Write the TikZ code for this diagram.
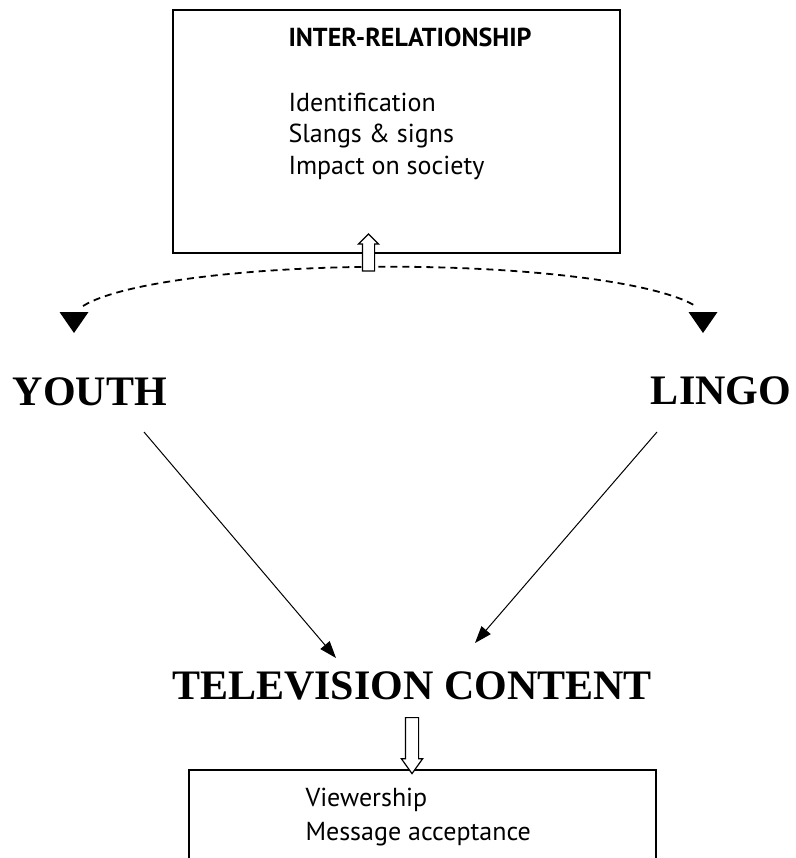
\documentclass[tikz,border=0pt]{standalone}
\usepackage{fontspec}
\setmainfont{Liberation Serif}
\setsansfont{PT Sans}
\usetikzlibrary{positioning}
\usetikzlibrary{arrows.meta,shapes.arrows}
\tikzset{edge/.style = {->,> = {Triangle[length=17pt,width=12pt]}}}

\begin{document}
\begin{tikzpicture}[x=1pt, y=-1pt, line width=1pt,
    main node/.style={font=\bfseries\fontsize{42}{50}\selectfont, inner sep=0, anchor=base},
    item node/.style={font=\sffamily\fontsize{26}{31}\selectfont, inner sep=0, anchor=base west},
    box node/.style={draw, line width=1.6pt, inner sep=0},
    block arrow/.style={single arrow, draw, fill=white, line width=1.2pt, single arrow head extend=4pt}]
    \useasboundingbox (0,0) rectangle (795,858);
    % boxes and texts
    \node[box node, minimum width=447pt, minimum height=243pt] (rel) at (396.5,131.5) {};
    \node[item node] (relhead) at (288,47) {\bfseries INTER-RELATIONSHIP};
    \node[item node] (ident) at (288,112) {Identification};
    \node[item node] (slangs) at (288,143) {Slangs \& signs};
    \node[item node] (impact) at (288,175) {Impact on society};
    \node[main node] (youth) at (90,405) {YOUTH};
    \node[main node] (lingo) at (721,404) {LINGO};
    \node[main node] (tv) at (412,699) {TELEVISION CONTENT};
    \node[box node, minimum width=467pt, minimum height=120pt, anchor=north] (out) at (422.5,769) {};
    \node[item node] (views) at (305,806) {Viewership};
    \node[item node] (accept) at (305,840) {Message acceptance};
    % dashed link and its two pointers
    \coordinate (yl) at (83,306);
    \draw[line width=1.8pt, dash pattern=on 7pt off 5pt] (yl) arc[start angle=195, end angle=345, x radius=317, y radius=53] coordinate (ll);
    \coordinate (ytip) at (74,333);
    \coordinate (ltip) at (703,333);
    \fill (ytip) -- ++(-14.5,-21) -- ++(29,0) -- cycle;
    \fill (ltip) -- ++(-14.5,-21) -- ++(29,0) -- cycle;
    % arrows into the content
    \coordinate (y1) at (144,432);
    \coordinate (y2) at (336,658);
    \coordinate (l1) at (657,432);
    \coordinate (l2) at (475,643);
    \draw[edge] (y1) -- (y2);
    \draw[edge] (l1) -- (l2);
    \node[block arrow, rotate=90, inner sep=5.5pt, minimum height=37pt] (up) at (368.5,255.5) {};
    \node[block arrow, rotate=-90, inner sep=6pt, minimum height=56pt, single arrow tip angle=71] (down) at (412,741) {};
\end{tikzpicture}
\end{document}
